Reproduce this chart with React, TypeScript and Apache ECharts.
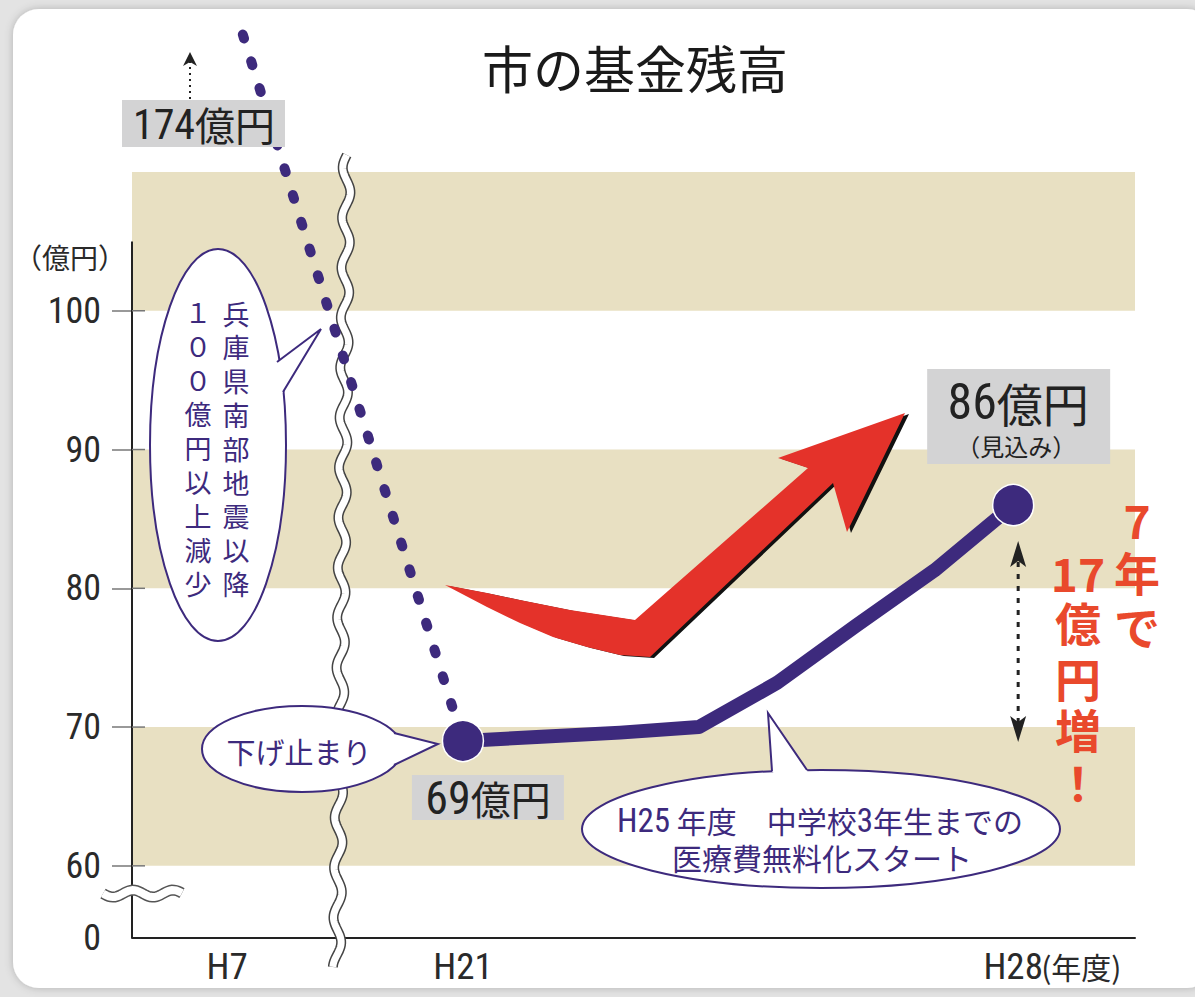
import React, { useEffect, useRef } from 'react';
import * as echarts from 'echarts';

const PURPLE = '#3d2a7d';
const BAND = '#e8e0c2';
const RED = '#e4322a';
const RED_TEXT = '#e9492c';
const CJK = '"Noto Sans CJK JP", sans-serif';
const NUM = '"Liberation Sans Narrow", "Roboto Condensed", "Liberation Sans", "Noto Sans CJK JP", sans-serif';

// x positions are on a broken axis: H7 is drawn at 18, then H21..H28 at 21..28
const xTickValues = [18, 21, 28];
const xTickLabels = ['H7', 'H21', 'H28'];
const yTickValues = [60, 70, 80, 90, 100];
const bandRanges = [
  [60, 70],
  [80, 90],
  [100, 110],
];

// visible part of the decline from 174億円 (H7) down to 69億円 (H21)
const dropYears = [18.2, 21];
const dropValues = [119.9, 69];

// fund balance H21..H28 (億円)
const fundYears = [21, 22, 23, 24, 25, 26, 27, 28];
const fundValues = [69, 69.3, 69.6, 70, 73.2, 77.3, 81.3, 86];

const X_MIN = 16.79;
const X_MAX = 29.55;
const Y_MIN = 54.8;
const Y_MAX = 110;

function wavePts(x0: number, y0: number, x1: number, y1: number, amp: number, period: number) {
  const dx = x1 - x0;
  const dy = y1 - y0;
  const L = Math.hypot(dx, dy);
  const ux = dx / L;
  const uy = dy / L;
  const nx = -uy;
  const ny = ux;
  const pts: number[][] = [];
  const n = Math.ceil(L / 2);
  for (let i = 0; i <= n; i++) {
    const s = (L * i) / n;
    const o = amp * Math.sin((2 * Math.PI * s) / period);
    pts.push([x0 + ux * s + nx * o, y0 + uy * s + ny * o]);
  }
  return pts;
}

export default function App() {
  const ref = useRef<HTMLDivElement>(null);

  useEffect(() => {
    document.body.style.margin = '0';
    const chart = echarts.init(ref.current as HTMLDivElement, null, { renderer: 'svg' });

    const option: any = {
      animation: false,
      title: {
        text: '市の基金残高',
        left: 482,
        top: 41,
        padding: 0,
        textStyle: { fontSize: 51, fontWeight: 'normal', color: '#1a1a1a', fontFamily: CJK, lineHeight: 52 },
      },
      grid: { left: 132, right: 60, top: 172, bottom: 59, containLabel: false },
      xAxis: {
        type: 'value',
        min: X_MIN,
        max: X_MAX,
        axisLine: { show: true, lineStyle: { color: '#222', width: 2 } },
        axisTick: { show: false },
        splitLine: { show: false },
        axisLabel: {
          customValues: xTickValues,
          formatter: (v: number) => {
            const i = xTickValues.indexOf(v);
            return i >= 0 ? xTickLabels[i] : '';
          },
          fontSize: 37,
          fontFamily: NUM,
          color: '#2a2a2a',
          margin: 10,
        },
      },
      yAxis: {
        type: 'value',
        min: Y_MIN,
        max: Y_MAX,
        axisLine: { show: false },
        splitLine: { show: false },
        axisTick: {
          show: true,
          customValues: yTickValues,
          length: 20,
          lineStyle: { color: '#777', width: 1.5 },
        },
        axisLabel: {
          customValues: [Y_MIN, ...yTickValues],
          formatter: (v: number) => (v < yTickValues[0] ? '0' : String(v)),
          fontSize: 36,
          fontFamily: NUM,
          color: '#2a2a2a',
          margin: 31,
        },
      },
      series: [
        {
          type: 'line',
          data: [],
          silent: true,
          z: 1,
          markArea: {
            silent: true,
            itemStyle: { color: BAND },
            data: bandRanges.map((r) => [{ yAxis: r[0] }, { yAxis: r[1] }]),
          },
        },
        {
          type: 'line',
          z: 3,
          clip: false,
          symbol: 'none',
          data: dropYears.map((x, i) => [x, dropValues[i]]),
          lineStyle: { color: PURPLE, width: 10, type: [4, 24], cap: 'round' },
        },
        {
          type: 'line',
          z: 4,
          data: fundYears.map((x, i) => [x, fundValues[i]]),
          symbol: 'circle',
          showAllSymbol: true,
          symbolSize: (_v: any, p: any) => (p.dataIndex === 0 || p.dataIndex === fundYears.length - 1 ? 41 : 0),
          itemStyle: { color: PURPLE, borderColor: '#fff', borderWidth: 1.5 },
          lineStyle: { color: PURPLE, width: 14, cap: 'round', join: 'round' },
        },
      ],
    };
    chart.setOption(option);

    const px = (x: number, y: number) => chart.convertToPixel({ gridIndex: 0 }, [x, y]) as number[];
    const p21 = px(fundYears[0], fundValues[0]);
    const p28 = px(fundYears[fundYears.length - 1], fundValues[fundValues.length - 1]);
    const axTop = px(X_MIN, 105);
    const axBot = px(X_MIN, Y_MIN);

    const g: any[] = [];
    // page background + card
    g.push({ type: 'rect', shape: { x: 0, y: 0, width: 1195, height: 997 }, style: { fill: '#e3e3e3' }, z: -10, silent: true });
    g.push({
      type: 'rect',
      shape: { x: 13, y: 9, width: 1200, height: 979, r: 26 },
      style: { fill: '#ffffff', shadowBlur: 8, shadowColor: 'rgba(0,0,0,0.22)' },
      z: -9,
      silent: true,
    });

    // y axis line
    g.push({
      type: 'line',
      shape: { x1: axTop[0], y1: axTop[1], x2: axBot[0], y2: axBot[1] },
      style: { stroke: '#222', lineWidth: 2 },
      z: 2,
    });
    // inner part of ticks
    yTickValues.forEach((v) => {
      const p = px(X_MIN, v);
      g.push({ type: 'line', shape: { x1: p[0], y1: p[1], x2: p[0] + 13, y2: p[1] }, style: { stroke: '#777', lineWidth: 1.5 }, z: 2 });
    });
    // unit
    g.push({
      type: 'text',
      x: 70,
      y: 257,
      style: { text: '（億円）', fontSize: 28, fontFamily: CJK, fill: '#2a2a2a', align: 'center', verticalAlign: 'middle' },
      z: 5,
    });
    // (年度)
    g.push({
      type: 'text',
      x: p28[0] + 28,
      y: axBot[1] + 28,
      style: { text: '(年度)', fontSize: 30, fontFamily: CJK, fill: '#2a2a2a', align: 'left', verticalAlign: 'middle' },
      z: 5,
    });

    // y axis break
    const yb = px(X_MIN, 58);
    const ybPts = wavePts(yb[0] - 29, yb[1], yb[0] + 50, yb[1], 3.5, 40);
    g.push({ type: 'polyline', shape: { points: ybPts }, style: { stroke: '#555', lineWidth: 11, fill: null }, z: 5 });
    g.push({ type: 'polyline', shape: { points: ybPts }, style: { stroke: '#fff', lineWidth: 8, fill: null }, z: 5.1 });

    // x axis break
    const xb = px(19.46, Y_MIN);
    const xbPts = wavePts(xb[0] + 5, 155, xb[0] - 5, axBot[1] + 29, 4, 50);
    g.push({ type: 'polyline', shape: { points: xbPts }, style: { stroke: '#444', lineWidth: 10, fill: null }, z: 2 });
    g.push({ type: 'polyline', shape: { points: xbPts }, style: { stroke: '#fff', lineWidth: 7, fill: null }, z: 2.1 });

    // red arrow
    const arrow = [
      [445, 585], [487, 593], [520, 600], [570, 610], [635, 620], [808, 468], [778, 458], [905, 413],
      [847, 532], [833, 483], [650, 657], [620, 655], [587, 647], [553, 637], [520, 623], [487, 607],
    ];
    g.push({
      type: 'polygon',
      shape: { points: arrow.map((p) => [p[0] + 4, p[1] + 1]) },
      style: { fill: '#111' },
      z: 5,
    });
    g.push({ type: 'polygon', shape: { points: arrow }, style: { fill: RED }, z: 5.1 });

    // label boxes
    const box = (x: number, y: number, w: number, h: number) =>
      g.push({ type: 'rect', shape: { x, y, width: w, height: h }, style: { fill: '#d3d3d4' }, z: 10 });
    const valText = (x: number, y: number, num: string, unit: string, nSize: number, kSize: number) =>
      g.push({
        type: 'text',
        x,
        y,
        style: {
          text: `{n|${num}}{k|${unit}}`,
          rich: {
            n: { fontSize: nSize, fontFamily: NUM, fill: '#222', color: '#222' },
            k: { fontSize: kSize, fontFamily: CJK, fill: '#222', color: '#222' },
          },
          fill: '#222',
          align: 'center',
          verticalAlign: 'middle',
        },
        z: 11,
      });

    box(122, 100, 163, 47);
    valText(204, 124, '174', '億円', 42, 40);
    box(p21[0] - 51, p21[1] + 34, 152, 45);
    valText(p21[0] + 25, p21[1] + 57, '69', '億円', 46, 40);
    box(p28[0] - 86, p28[1] - 136, 183, 95);
    valText(p28[0] + 5, p28[1] - 103, '86', '億円', 50, 46);
    g.push({
      type: 'text',
      x: p28[0] + 3,
      y: p28[1] - 60,
      style: { text: '（見込み）', fontSize: 24, fontFamily: CJK, fill: '#222', align: 'center', verticalAlign: 'middle' },
      z: 11,
    });

    // dotted up arrow above 174
    g.push({ type: 'line', shape: { x1: 190, y1: 99, x2: 190, y2: 62 }, style: { stroke: '#222', lineWidth: 2, lineDash: [2, 4] }, z: 10 });
    g.push({ type: 'polygon', shape: { points: [[190, 52], [197, 66], [190, 62], [183, 66]] }, style: { fill: '#222' }, z: 10 });

    // double dotted arrow 69 -> 86
    const ax = p28[0] + 5;
    g.push({ type: 'line', shape: { x1: ax, y1: 562, x2: ax, y2: 722 }, style: { stroke: '#222', lineWidth: 3, lineDash: [5, 7] }, z: 10 });
    g.push({ type: 'polygon', shape: { points: [[ax, 541], [ax + 8, 567], [ax, 561], [ax - 8, 567]] }, style: { fill: '#222' }, z: 10 });
    g.push({ type: 'polygon', shape: { points: [[ax, 742], [ax + 8, 716], [ax, 722], [ax - 8, 716]] }, style: { fill: '#222' }, z: 10 });

    // speech bubbles
    const bubble = (cx: number, cy: number, rx: number, ry: number, b1: number[], tip: number[], b2: number[]) => {
      g.push({ type: 'ellipse', shape: { cx, cy, rx, ry }, style: { fill: '#fff', stroke: PURPLE, lineWidth: 2 }, z: 10 });
      const in1 = [b1[0] + (cx - b1[0]) * 0.06, b1[1] + (cy - b1[1]) * 0.06];
      const in2 = [b2[0] + (cx - b2[0]) * 0.06, b2[1] + (cy - b2[1]) * 0.06];
      g.push({ type: 'polygon', shape: { points: [in1, b1, tip, b2, in2] }, style: { fill: '#fff' }, z: 10.1 });
      g.push({ type: 'polyline', shape: { points: [b1, tip, b2] }, style: { stroke: PURPLE, lineWidth: 2, fill: null }, z: 10.2 });
    };
    const column = (x: number, yStart: number, step: number, chars: string[], size: number, color: string, weight: string) => {
      chars.forEach((c, i) =>
        g.push({
          type: 'text',
          x,
          y: yStart + i * step,
          style: { text: c, fontSize: size, fontWeight: weight, fontFamily: CJK, fill: color, align: 'center', verticalAlign: 'middle' },
          z: 11,
        })
      );
    };

    bubble(218, 445, 68, 196, [277, 362], [321, 329], [283, 392]);
    column(236, 313, 33.8, '兵庫県南部地震以降'.split(''), 27, PURPLE, 'normal');
    column(198, 311, 34, '１００億円以上減少'.split(''), 27, PURPLE, 'normal');

    bubble(302, 749, 100, 43, [394, 733], [p21[0] - 25, p21[1] + 3], [394, 765]);
    g.push({
      type: 'text',
      x: 299,
      y: 751,
      style: { text: '下げ止まり', fontSize: 29, fontFamily: CJK, fill: PURPLE, align: 'center', verticalAlign: 'middle' },
      z: 11,
    });

    bubble(821, 829, 239, 59, [772, 771], [768, 713], [807, 770]);
    const bubRich = {
      n: { fontSize: 33, fontFamily: NUM, fill: PURPLE, color: PURPLE },
      c: { fontSize: 30, fontFamily: CJK, fill: PURPLE, color: PURPLE },
    };
    g.push({
      type: 'text',
      x: 820,
      y: 820,
      style: { text: '{n|H25}{c| 年度　中学校}{n|3}{c|年生までの}', rich: bubRich, fill: PURPLE, align: 'center', verticalAlign: 'middle' },
      z: 11,
    });
    g.push({
      type: 'text',
      x: 822,
      y: 857,
      style: { text: '医療費無料化スタート', fontSize: 30, fontFamily: CJK, fill: PURPLE, align: 'center', verticalAlign: 'middle' },
      z: 11,
    });

    // red vertical text: right column read first
    const rightCol = ['7', '年', 'で'];
    const rightY = [519, 571, 625];
    const leftCol = ['17', '億', '円', '増', '！'];
    const leftY = [572, 621, 677, 728, 781];
    rightCol.forEach((c, i) =>
      g.push({
        type: 'text',
        x: 1137,
        y: rightY[i],
        style: { text: c, fontSize: 46, fontWeight: 'bold', fontFamily: CJK, fill: RED_TEXT, align: 'center', verticalAlign: 'middle' },
        z: 11,
      })
    );
    leftCol.forEach((c, i) =>
      g.push({
        type: 'text',
        x: 1078,
        y: leftY[i],
        style: { text: c, fontSize: 46, fontWeight: 'bold', fontFamily: CJK, fill: RED_TEXT, align: 'center', verticalAlign: 'middle' },
        z: 11,
      })
    );

    chart.setOption({ graphic: { elements: g } });

    return () => {
      chart.dispose();
    };
  }, []);

  return <div ref={ref} style={{ width: 1195, height: 997 }} />;
}
